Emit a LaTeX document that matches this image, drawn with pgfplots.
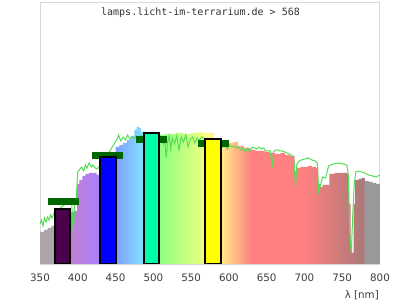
\documentclass[border=0pt]{standalone}
\usepackage{pgfplots}
\pgfplotsset{compat=1.18}
\usepackage{fontspec}
\setmainfont{DejaVu Sans}
\newfontfamily\monofont{DejaVu Sans Mono}

\definecolor{sA}{RGB}{171,165,171}
\definecolor{sB}{RGB}{192,128,208}
\definecolor{sC}{RGB}{168,128,255}
\definecolor{sD}{RGB}{128,160,255}
\definecolor{sE}{RGB}{128,224,255}
\definecolor{sF}{RGB}{144,255,128}
\definecolor{sG}{RGB}{224,255,128}
\definecolor{sH}{RGB}{255,255,128}
\definecolor{sI}{RGB}{255,228,136}
\definecolor{sJ}{RGB}{255,128,128}
\definecolor{sK}{RGB}{170,120,120}
\definecolor{sL}{RGB}{153,153,153}
\definecolor{framegray}{RGB}{216,216,216}
\definecolor{labelgray}{RGB}{60,60,60}
\definecolor{titlegray}{RGB}{50,50,50}
\definecolor{linegreen}{RGB}{85,221,85}
\definecolor{markgreen}{RGB}{0,102,0}
\definecolor{barpurple}{RGB}{75,0,75}
\definecolor{barblue}{RGB}{0,0,255}
\definecolor{barcyan}{RGB}{0,255,170}
\definecolor{baryellow}{RGB}{255,255,0}

\pgfdeclarehorizontalshading{spectrum}{100bp}{
color(0bp)=(sA);
color(25bp)=(sA);
color(27.2bp)=(sA);
color(29.44bp)=(sB);
color(33.89bp)=(sC);
color(36.11bp)=(sD);
color(40.11bp)=(sE);
color(42.78bp)=(sF);
color(48.33bp)=(sG);
color(49.44bp)=(sH);
color(51.89bp)=(sI);
color(56.11bp)=(sJ);
color(63.89bp)=(sJ);
color(72.56bp)=(sK);
color(72.78bp)=(sL);
color(75bp)=(sL);
color(100bp)=(sL)}

\pgfplotstableread{
nm h
350 32
355 34
360 36
365 38
370 40
380 45
390 52
395 53
398 53
399 80
402 84
406 88
410 90
415 91
420 91
425 89
428 87
440 105
450 117
455 119
460 121
465 124
470 128
475 134
478 137
481 136
484 132
487 131
500 130
510 129
515 130
520 130
530 131
540 130
550 131
560 132
565 131
580 125
590 120
592 120
600 121
606 122
612 118
620 116
628 114
635 113
641 113
648 112
654 111
661 110
668 111
674 109
681 108
685 108
687 93
690 96
695 97
700 97
705 98
710 97
715 96
718 80
721 77
724 79
730 79
733 90
740 91
750 91
757 89
759 60
761 20
763 11
765 60
767 84
772 85
776 86
780 83
785 82
790 81
795 80
800 80
}\filldata

\pgfplotstableread{
nm h
350 40
352 44
354 38
356 46
358 42
360 47
362 44
364 49
366 46
368 50
370 52
375 55
380 58
385 62
390 63
392 60
394 31
396 62
398 66
400 92
403 95
405 97
408 93
410 99
412 96
415 101
418 97
420 99
423 96
426 95
440 110
452 125
454 129
457 123
460 127
463 124
466 129
469 125
472 127
475 126
478 128
481 127
484 128
498 128
511 127
513 120
515 125
517 106
519 122
521 128
523 115
525 126
528 120
531 128
534 114
537 127
540 122
543 129
546 117
549 125
552 127
555 121
558 126
561 124
564 127
580 120
592 117
595 118
598 115
601 119
604 117
607 118
610 116
613 117
616 114
619 116
622 112
625 116
628 113
631 117
634 116
637 115
640 117
643 115
646 116
649 113
652 113
655 113
657 96
659 112
662 114
665 114
668 113
671 113
674 112
677 111
680 110
683 109
686 106
688 77
690 100
693 103
696 104
700 105
705 106
710 104
714 103
717 101
719 72
721 78
724 87
728 86
732 98
738 100
745 101
752 100
756 99
758 90
760 30
762 11
764 50
766 80
768 92
772 93
776 92
780 91
785 89
790 88
795 87
800 89
}\linedata

\begin{document}
\begin{tikzpicture}
\path[use as bounding box] (0bp,0bp) rectangle (400bp,300bp);
\begin{axis}[
  at={(40bp,36bp)}, anchor=south west,
  scale only axis, width=340bp, height=261bp,
  xmin=350, xmax=800, ymin=0, ymax=261,
  xtick={350,400,...,800}, ytick=\empty,
  major tick length=0pt,
  axis line style={draw=framegray, line width=1bp},
  tick label style={font=\fontsize{10.3bp}{12bp}\selectfont, text=labelgray},
  xticklabel style={anchor=base, yshift=-17.7bp},
  /pgf/number format/assume math mode=true,
  clip=true,
]
\addplot[draw=none, shading=spectrum, const plot] table[x=nm, y=h] {\filldata} \closedcycle;
\addplot[color=linegreen, line width=1bp] table[x=nm, y=h] {\linedata};
\addplot[draw=markgreen, line width=6.7bp] coordinates {(360.6,62.7) (401.6,62.7)};
\addplot[draw=markgreen, line width=6.7bp] coordinates {(418.8,108.5) (459.8,108.5)};
\addplot[draw=markgreen, line width=6.7bp] coordinates {(477,124.7) (517.7,124.7)};
\addplot[draw=markgreen, line width=6.7bp] coordinates {(558.7,120.7) (600,120.7)};
\addplot[draw=black, line width=2bp, fill=barpurple] coordinates {(370,55) (390,55)} \closedcycle;
\addplot[draw=black, line width=2bp, fill=barblue] coordinates {(430,106.5) (450,106.5)} \closedcycle;
\addplot[draw=black, line width=2bp, fill=barcyan] coordinates {(488,130.5) (508,130.5)} \closedcycle;
\addplot[draw=black, line width=2bp, fill=baryellow] coordinates {(569,125) (590,125)} \closedcycle;
\end{axis}
\node[anchor=base, inner sep=0pt, text=titlegray, font=\monofont\fontsize{10bp}{12bp}\selectfont] at (200.5bp,284.5bp) {lamps.licht-im-terrarium.de > 568};
\node[anchor=base east, inner sep=0pt, text=labelgray, font=\fontsize{10.3bp}{12bp}\selectfont] at (379bp,1.5bp) {λ [nm]};
\end{tikzpicture}
\end{document}
